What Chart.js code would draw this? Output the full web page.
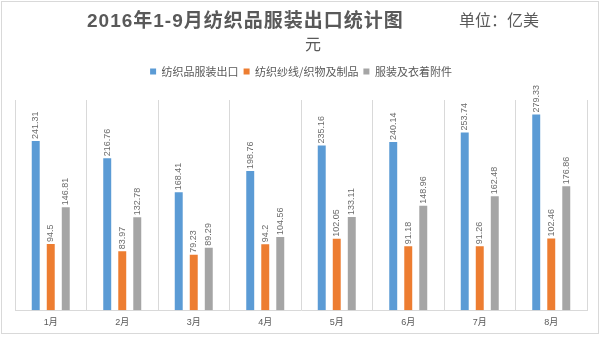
<!DOCTYPE html>
<html lang="zh-CN">
<head>
    <meta charset="UTF-8">
    <title>2016年1-9月纺织品服装出口统计图</title>
    <script src="https://cdn.jsdelivr.net/npm/chart.js"></script>
    <style>
        body {
            margin: 0;
            background-color: #fff;
        }
        .wrap {
            position: relative;
            width: 600px;
            height: 337px;
            font-family: "Liberation Sans", "Noto Sans CJK SC", sans-serif;
            color: #595959;
        }
        .frame {
            position: absolute;
            left: 1px;
            top: 1px;
            width: 596px;
            height: 331px;
            border: 1px solid #d9d9d9;
        }
        .title {
            position: absolute;
            white-space: nowrap;
            line-height: 1;
        }
        .t-main {
            left: 87px;
            top: 11px;
            font-size: 19px;
            font-weight: bold;
            letter-spacing: 1px;
        }
        .t-unit {
            left: 459px;
            top: 13px;
            font-size: 16px;
        }
        .t-unit2 {
            left: 305px;
            top: 37px;
            font-size: 16px;
        }
        canvas {
            position: absolute;
            left: 0;
            top: 0;
        }
    </style>
</head>
<body>
    <div class="wrap">
        <div class="frame"></div>
        <canvas id="exportChart" width="600" height="337"></canvas>
        <div class="title t-main">2016年1-9月纺织品服装出口统计图</div>
        <div class="title t-unit">单位：亿美</div>
        <div class="title t-unit2">元</div>
    </div>

    <script>
        const months = ['1月', '2月', '3月', '4月', '5月', '6月', '7月', '8月'];
        const textileGarments = [241.31, 216.76, 168.41, 198.76, 235.16, 240.14, 253.74, 279.33];
        const yarnFabrics = [94.5, 83.97, 79.23, 94.2, 102.05, 91.18, 91.26, 102.46];
        const garmentsAccessories = [146.81, 132.78, 89.29, 104.56, 133.11, 148.96, 162.48, 176.86];

        // labels drawn vertically above each bar
        const barLabels = {
            id: 'barLabels',
            afterDatasetsDraw(chart) {
                const ctx = chart.ctx;
                ctx.save();
                ctx.font = '9px "Liberation Sans", sans-serif';
                ctx.fillStyle = '#6b6b6b';
                ctx.textAlign = 'left';
                ctx.textBaseline = 'middle';
                chart.data.datasets.forEach((ds, i) => {
                    chart.getDatasetMeta(i).data.forEach((bar, j) => {
                        ctx.save();
                        ctx.translate(bar.x, bar.y - 2);
                        ctx.rotate(-Math.PI / 2);
                        ctx.fillText(String(ds.data[j]), 0, 0);
                        ctx.restore();
                    });
                });
                ctx.restore();
            }
        };

        // extra space under the legend
        const legendGap = {
            id: 'legendGap',
            beforeInit(chart) {
                const fit = chart.legend.fit;
                chart.legend.fit = function () {
                    fit.bind(chart.legend)();
                    this.height += 13;
                };
            }
        };

        const ctx = document.getElementById('exportChart').getContext('2d');
        new Chart(ctx, {
            type: 'bar',
            data: {
                labels: months,
                datasets: [{
                    label: '纺织品服装出口',
                    data: textileGarments,
                    backgroundColor: '#5b9bd5'
                }, {
                    label: '纺织纱线/织物及制品',
                    data: yarnFabrics,
                    backgroundColor: '#ed7d31'
                }, {
                    label: '服装及衣着附件',
                    data: garmentsAccessories,
                    backgroundColor: '#a5a5a5'
                }]
            },
            options: {
                responsive: false,
                animation: false,
                layout: {
                    padding: { top: 61, left: 15, right: 13, bottom: 2 }
                },
                datasets: {
                    bar: {
                        categoryPercentage: 0.63,
                        barPercentage: 0.53
                    }
                },
                scales: {
                    x: {
                        grid: { color: '#d9d9d9', drawTicks: false, offset: true },
                        border: { color: '#d9d9d9' },
                        ticks: {
                            color: '#595959',
                            padding: 7,
                            font: { size: 9, family: '"Liberation Sans", "Noto Sans CJK SC", sans-serif' }
                        }
                    },
                    y: {
                        display: false,
                        min: 0,
                        max: 300
                    }
                },
                plugins: {
                    legend: {
                        position: 'top',
                        labels: {
                            boxWidth: 6,
                            boxHeight: 6,
                            padding: 5,
                            color: '#595959',
                            font: { size: 11, family: '"Noto Sans CJK SC", sans-serif' }
                        }
                    },
                    tooltip: { enabled: false }
                }
            },
            plugins: [barLabels, legendGap]
        });
    </script>
</body>
</html>
